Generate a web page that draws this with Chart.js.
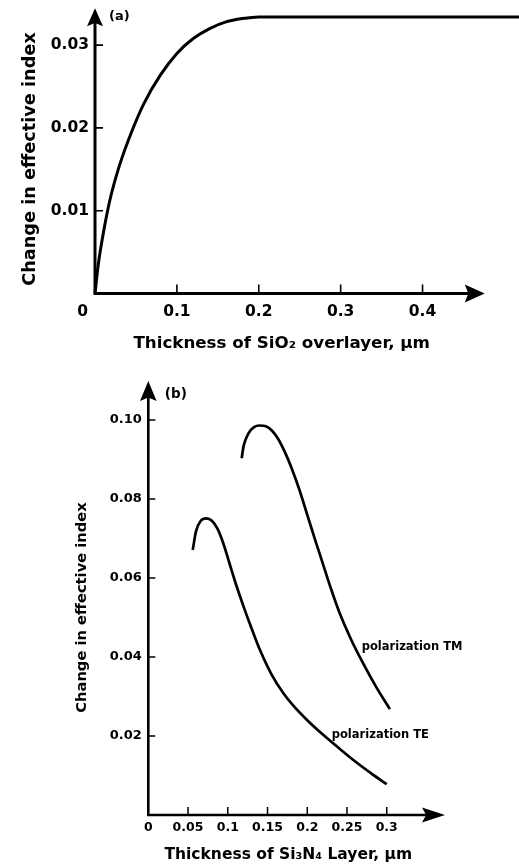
<!DOCTYPE html>
<html>
<head>
<meta charset="utf-8">
<script src="https://cdn.jsdelivr.net/npm/chart.js@4.4.1/dist/chart.umd.min.js"></script>
<style>
  html, body { margin: 0; padding: 0; background: #fff; width: 519px; height: 866px; overflow: hidden; }
  canvas { position: absolute; left: 0; }
  #ca { top: 0; }
  #cb { top: 370px; }
</style>
</head>
<body>
<canvas id="ca" width="519" height="370"></canvas>
<canvas id="cb" width="519" height="496"></canvas>
<script>
// ---------- Panel (a): SiO2 overlayer ----------
const A_THICKNESS = [0, 0.004, 0.010, 0.018, 0.030, 0.045, 0.060, 0.080, 0.100, 0.120, 0.140, 0.160, 0.180, 0.200, 0.300, 0.400, 0.520];
const A_DELTA     = [0, 0.0035, 0.0072, 0.0112, 0.0155, 0.0196, 0.0230, 0.0264, 0.0290, 0.0308, 0.0320, 0.0328, 0.0332, 0.0334, 0.0334, 0.0334, 0.0334];
const A_X_TICKS = [0, 0.1, 0.2, 0.3, 0.4];
const A_X_TICK_LABELS = ['0', '0.1', '0.2', '0.3', '0.4'];
const A_Y_TICKS = [0.01, 0.02, 0.03];
const A_Y_TICK_LABELS = ['0.01', '0.02', '0.03'];
const A_X_TITLE = 'Thickness of SiO\u2082 overlayer, \u00b5m';
const A_PANEL = '(a)';

// ---------- Panel (b): Si3N4 layer ----------
const TE_THICKNESS = [0.0559, 0.0600, 0.0660, 0.0730, 0.0800, 0.0870, 0.0940, 0.1020, 0.1100, 0.1200, 0.1300, 0.1400, 0.1550, 0.1700, 0.1850, 0.2000, 0.2200, 0.2400, 0.2600, 0.2800, 0.3000];
const TE_DELTA     = [0.0671, 0.0718, 0.0745, 0.0751, 0.0745, 0.0725, 0.0690, 0.0638, 0.0586, 0.0527, 0.0472, 0.0420, 0.0356, 0.0308, 0.0271, 0.0240, 0.0203, 0.0169, 0.0136, 0.0106, 0.0078];
const TM_THICKNESS = [0.1175, 0.1200, 0.1260, 0.1330, 0.1400, 0.1480, 0.1560, 0.1640, 0.1720, 0.1800, 0.1900, 0.2000, 0.2100, 0.2200, 0.2300, 0.2400, 0.2550, 0.2700, 0.2870, 0.3040];
const TM_DELTA     = [0.0903, 0.0935, 0.0966, 0.0982, 0.0986, 0.0984, 0.0972, 0.0950, 0.0918, 0.0880, 0.0824, 0.0760, 0.0696, 0.0634, 0.0572, 0.0515, 0.0445, 0.0385, 0.0323, 0.0268];
const B_X_TICKS = [0, 0.05, 0.1, 0.15, 0.2, 0.25, 0.3];
const B_X_TICK_LABELS = ['0', '0.05', '0.1', '0.15', '0.2', '0.25', '0.3'];
const B_Y_TICKS = [0.02, 0.04, 0.06, 0.08, 0.10];
const B_Y_TICK_LABELS = ['0.02', '0.04', '0.06', '0.08', '0.10'];
const B_X_TITLE = 'Thickness of Si\u2083N\u2084 Layer, \u00b5m';
const B_PANEL = '(b)';
const B_SERIES_NAMES = ['polarization TE', 'polarization TM'];
const B_SERIES_LABEL_AT = [[0.2308, 0.0203], [0.2685, 0.0426]];

const Y_TITLE = 'Change in effective index';
const FONT = 'DejaVu Sans';

Chart.defaults.font.family = FONT;
Chart.defaults.font.weight = 'bold';
Chart.defaults.color = '#000';

function toPts(xs, ys) { return xs.map((x, i) => ({ x: x, y: ys[i] })); }

function arrowUp(ctx, x, tip, len, half) {
  ctx.beginPath();
  ctx.moveTo(x, tip);
  ctx.lineTo(x + half, tip + len);
  ctx.lineTo(x, tip + len * 0.82);
  ctx.lineTo(x - half, tip + len);
  ctx.closePath();
  ctx.fill();
}
function arrowRight(ctx, tip, y, len, half) {
  ctx.beginPath();
  ctx.moveTo(tip, y);
  ctx.lineTo(tip - len, y - half);
  ctx.lineTo(tip - len * 0.82, y);
  ctx.lineTo(tip - len, y + half);
  ctx.closePath();
  ctx.fill();
}

const axesPlugin = {
  id: 'sketchAxes',
  afterDraw(chart, args, o) {
    const ctx = chart.ctx;
    const xs = chart.scales.x, ys = chart.scales.y;
    const x0 = xs.getPixelForValue(0), y0 = ys.getPixelForValue(0);
    const yTip = ys.getPixelForValue(o.yTip), xTip = xs.getPixelForValue(o.xTip);
    ctx.save();
    ctx.strokeStyle = '#000';
    ctx.fillStyle = '#000';
    ctx.lineWidth = o.lw;
    ctx.beginPath();
    ctx.moveTo(x0, y0 + o.lw / 2);
    ctx.lineTo(x0, yTip + o.yArrow[0] * 0.8);
    ctx.moveTo(x0 - o.lw / 2, y0);
    ctx.lineTo(xTip - o.xArrow[0] * 0.8, y0);
    ctx.stroke();
    arrowUp(ctx, x0, yTip, o.yArrow[0], o.yArrow[1]);
    arrowRight(ctx, xTip, y0, o.xArrow[0], o.xArrow[1]);
    ctx.lineWidth = o.tickW;
    ctx.beginPath();
    xs.ticks.forEach(t => {
      if (t.value === 0) return;
      const px = xs.getPixelForValue(t.value);
      ctx.moveTo(px, y0);
      ctx.lineTo(px, y0 - o.tickLen);
    });
    ys.ticks.forEach(t => {
      if (t.value === 0) return;
      const py = ys.getPixelForValue(t.value);
      ctx.moveTo(x0, py);
      ctx.lineTo(x0 + o.tickLen - 1, py);
    });
    ctx.stroke();
    ctx.font = 'bold ' + o.panelSize + 'px "' + FONT + '"';
    ctx.textAlign = 'left';
    ctx.textBaseline = 'middle';
    ctx.fillText(o.panel, x0 + o.panelDx, yTip + o.panelDy);
    if (o.originLabel) {
      ctx.font = 'bold ' + o.originSize + 'px "' + FONT + '"';
      ctx.textAlign = 'center';
      ctx.fillText(o.originLabel, x0 - o.originDx, y0 + o.originDy);
    }
    if (o.curveLabels) {
      ctx.font = 'bold ' + o.curveLabelSize + 'px "' + FONT + '"';
      ctx.textAlign = 'left';
      o.curveLabels.forEach(c => {
        ctx.fillText(c.text, xs.getPixelForValue(c.at[0]), ys.getPixelForValue(c.at[1]));
      });
    }
    ctx.restore();
  }
};

function setTicks(values) {
  return function (scale) { scale.ticks = values.map(v => ({ value: v })); };
}

// ---------- Chart A ----------
new Chart(document.getElementById('ca'), {
  type: 'line',
  data: {
    datasets: [{
      data: toPts(A_THICKNESS, A_DELTA),
      borderColor: '#000',
      borderWidth: 3,
      pointRadius: 0,
      fill: false,
      cubicInterpolationMode: 'monotone',
      clip: false
    }]
  },
  options: {
    responsive: false,
    devicePixelRatio: 1,
    animation: false,
    layout: { padding: { top: 24.5, right: 50.6, left: 0, bottom: 0 } },
    plugins: {
      legend: { display: false },
      tooltip: { enabled: false },
      sketchAxes: {
        yTip: 0.03444, xTip: 0.476, lw: 3,
        yArrow: [18, 8], xArrow: [20, 9],
        tickW: 1.6, tickLen: 9,
        panel: A_PANEL, panelSize: 13, panelDx: 14, panelDy: 8.5,
        originLabel: A_X_TICK_LABELS[0], originSize: 15.5, originDx: 12.3, originDy: 18.2
      }
    },
    scales: {
      x: {
        type: 'linear', min: 0, max: 0.456,
        grid: { display: false, drawTicks: false },
        border: { display: false },
        afterBuildTicks: setTicks(A_X_TICKS),
        afterFit: s => { s.height = 76.5; },
        ticks: {
          autoSkip: false, maxRotation: 0, padding: 9,
          font: { size: 15.5, weight: 'bold' },
          callback: (v, i) => (i === 0 ? '' : A_X_TICK_LABELS[i])
        },
        title: {
          display: true, text: A_X_TITLE,
          font: { size: 16.7, weight: 'bold' },
          padding: { top: 0, bottom: 16.5 }
        }
      },
      y: {
        type: 'linear', min: 0, max: 0.032488,
        grid: { display: false, drawTicks: false },
        border: { display: false },
        afterBuildTicks: setTicks(A_Y_TICKS),
        afterFit: s => { s.width = 95; },
        ticks: {
          autoSkip: false, padding: 6,
          font: { size: 15.5, weight: 'bold' },
          callback: (v, i) => A_Y_TICK_LABELS[i]
        },
        title: {
          display: true, text: Y_TITLE,
          font: { size: 17.7, weight: 'bold' },
          padding: { top: 19.4, bottom: 0 }
        }
      }
    }
  },
  plugins: [axesPlugin]
});

// ---------- Chart B ----------
new Chart(document.getElementById('cb'), {
  type: 'line',
  data: {
    datasets: [
      {
        label: B_SERIES_NAMES[0],
        data: toPts(TE_THICKNESS, TE_DELTA),
        borderColor: '#000', borderWidth: 2.7, pointRadius: 0, fill: false,
        cubicInterpolationMode: 'monotone', clip: false
      },
      {
        label: B_SERIES_NAMES[1],
        data: toPts(TM_THICKNESS, TM_DELTA),
        borderColor: '#000', borderWidth: 2.7, pointRadius: 0, fill: false,
        cubicInterpolationMode: 'monotone', clip: false
      }
    ]
  },
  options: {
    responsive: false,
    devicePixelRatio: 1,
    animation: false,
    layout: { padding: { top: 30, right: 90.7, left: 0, bottom: 0 } },
    plugins: {
      legend: { display: false },
      tooltip: { enabled: false },
      sketchAxes: {
        yTip: 0.10987, xTip: 0.3733, lw: 2.6,
        yArrow: [20, 8.3], xArrow: [23, 7.5],
        tickW: 1.5, tickLen: 8,
        panel: B_PANEL, panelSize: 13.5, panelDx: 16.5, panelDy: 14,
        curveLabelSize: 11.5,
        curveLabels: B_SERIES_NAMES.map((n, i) => ({ text: n, at: B_SERIES_LABEL_AT[i] }))
      }
    },
    scales: {
      x: {
        type: 'linear', min: 0, max: 0.3523,
        grid: { display: false, drawTicks: false },
        border: { display: false },
        afterBuildTicks: setTicks(B_X_TICKS),
        afterFit: s => { s.height = 51; },
        ticks: {
          autoSkip: false, maxRotation: 0, padding: 5.5,
          font: { size: 12.5, weight: 'bold' },
          callback: (v, i) => B_X_TICK_LABELS[i]
        },
        title: {
          display: true, text: B_X_TITLE,
          font: { size: 15.5, weight: 'bold' },
          padding: { top: 0, bottom: 1.7 }
        }
      },
      y: {
        type: 'linear', min: 0, max: 0.10506,
        grid: { display: false, drawTicks: false },
        border: { display: false },
        afterBuildTicks: setTicks(B_Y_TICKS),
        afterFit: s => { s.width = 148.3; },
        ticks: {
          autoSkip: false, padding: 6.5,
          font: { size: 13, weight: 'bold' },
          callback: (v, i) => B_Y_TICK_LABELS[i]
        },
        title: {
          display: true, text: Y_TITLE,
          font: { size: 14.7, weight: 'bold' },
          padding: { top: 73.2, bottom: 0 }
        }
      }
    }
  },
  plugins: [axesPlugin]
});
</script>
</body>
</html>
